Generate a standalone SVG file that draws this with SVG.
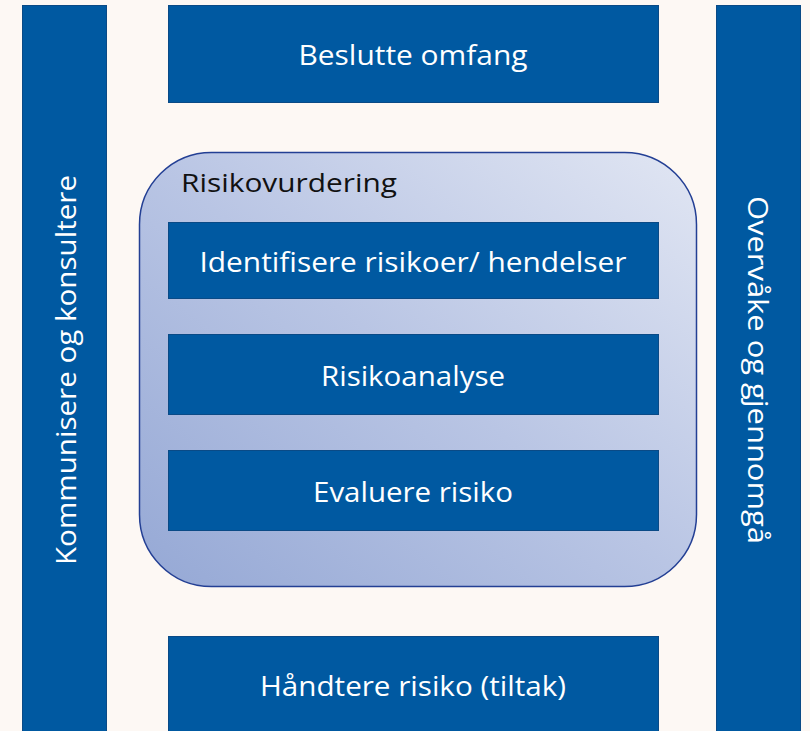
<svg xmlns="http://www.w3.org/2000/svg" width="810" height="731" viewBox="0 0 810 731">
  <style>
    .box { fill: #0059a1; stroke: #0a4a86; stroke-width: 1; }
    .lbl { font-family: "Open Sans", Lato, sans-serif; font-size: 27px; fill: #ffffff; text-anchor: middle; dominant-baseline: central; }
    .title { font-family: "Open Sans", Lato, sans-serif; font-size: 26px; fill: #111111; }
  </style>
  <defs>
    <linearGradient id="riskFill" x1="0" y1="1" x2="1" y2="0">
      <stop offset="0" stop-color="#95a8d5"/>
      <stop offset="0.5" stop-color="#b9c5e4"/>
      <stop offset="1" stop-color="#e1e6f3"/>
    </linearGradient>
  </defs>
  <rect width="810" height="731" fill="#fdf8f4"/>

  <g id="kommunisere">
    <rect class="box" x="22.5" y="5.5" width="84" height="730"/>
    <text class="lbl" transform="translate(65 370) rotate(-90)" textLength="390" lengthAdjust="spacingAndGlyphs">Kommunisere og konsultere</text>
  </g>
  <g id="overvake">
    <rect class="box" x="716.5" y="5.5" width="84" height="730"/>
    <text class="lbl" transform="translate(758 370) rotate(90)" textLength="348" lengthAdjust="spacingAndGlyphs">Overvåke og gjennomgå</text>
  </g>
  <g id="beslutte">
    <rect class="box" x="168.5" y="5.5" width="490" height="97"/>
    <text class="lbl" x="413" y="54" textLength="229" lengthAdjust="spacingAndGlyphs">Beslutte omfang</text>
  </g>
  <g id="risikovurdering">
    <rect x="139.5" y="152.5" width="557" height="434" rx="72" ry="72" fill="url(#riskFill)" stroke="#233f94" stroke-width="1.5"/>
    <text class="title" x="181" y="192" textLength="216" lengthAdjust="spacingAndGlyphs">Risikovurdering</text>
  </g>
  <g id="identifisere">
    <rect class="box" x="168.5" y="222.5" width="490" height="76"/>
    <text class="lbl" x="413" y="261" textLength="427" lengthAdjust="spacingAndGlyphs">Identifisere risikoer/ hendelser</text>
  </g>
  <g id="risikoanalyse">
    <rect class="box" x="168.5" y="334.5" width="490" height="80"/>
    <text class="lbl" x="413" y="375" textLength="184" lengthAdjust="spacingAndGlyphs">Risikoanalyse</text>
  </g>
  <g id="evaluere">
    <rect class="box" x="168.5" y="450.5" width="490" height="80"/>
    <text class="lbl" x="413" y="491" textLength="200" lengthAdjust="spacingAndGlyphs">Evaluere risiko</text>
  </g>
  <g id="handtere">
    <rect class="box" x="168.5" y="636.5" width="490" height="100"/>
    <text class="lbl" x="413" y="685" textLength="306" lengthAdjust="spacingAndGlyphs">Håndtere risiko (tiltak)</text>
  </g>
  <g id="connectors"></g>
</svg>
